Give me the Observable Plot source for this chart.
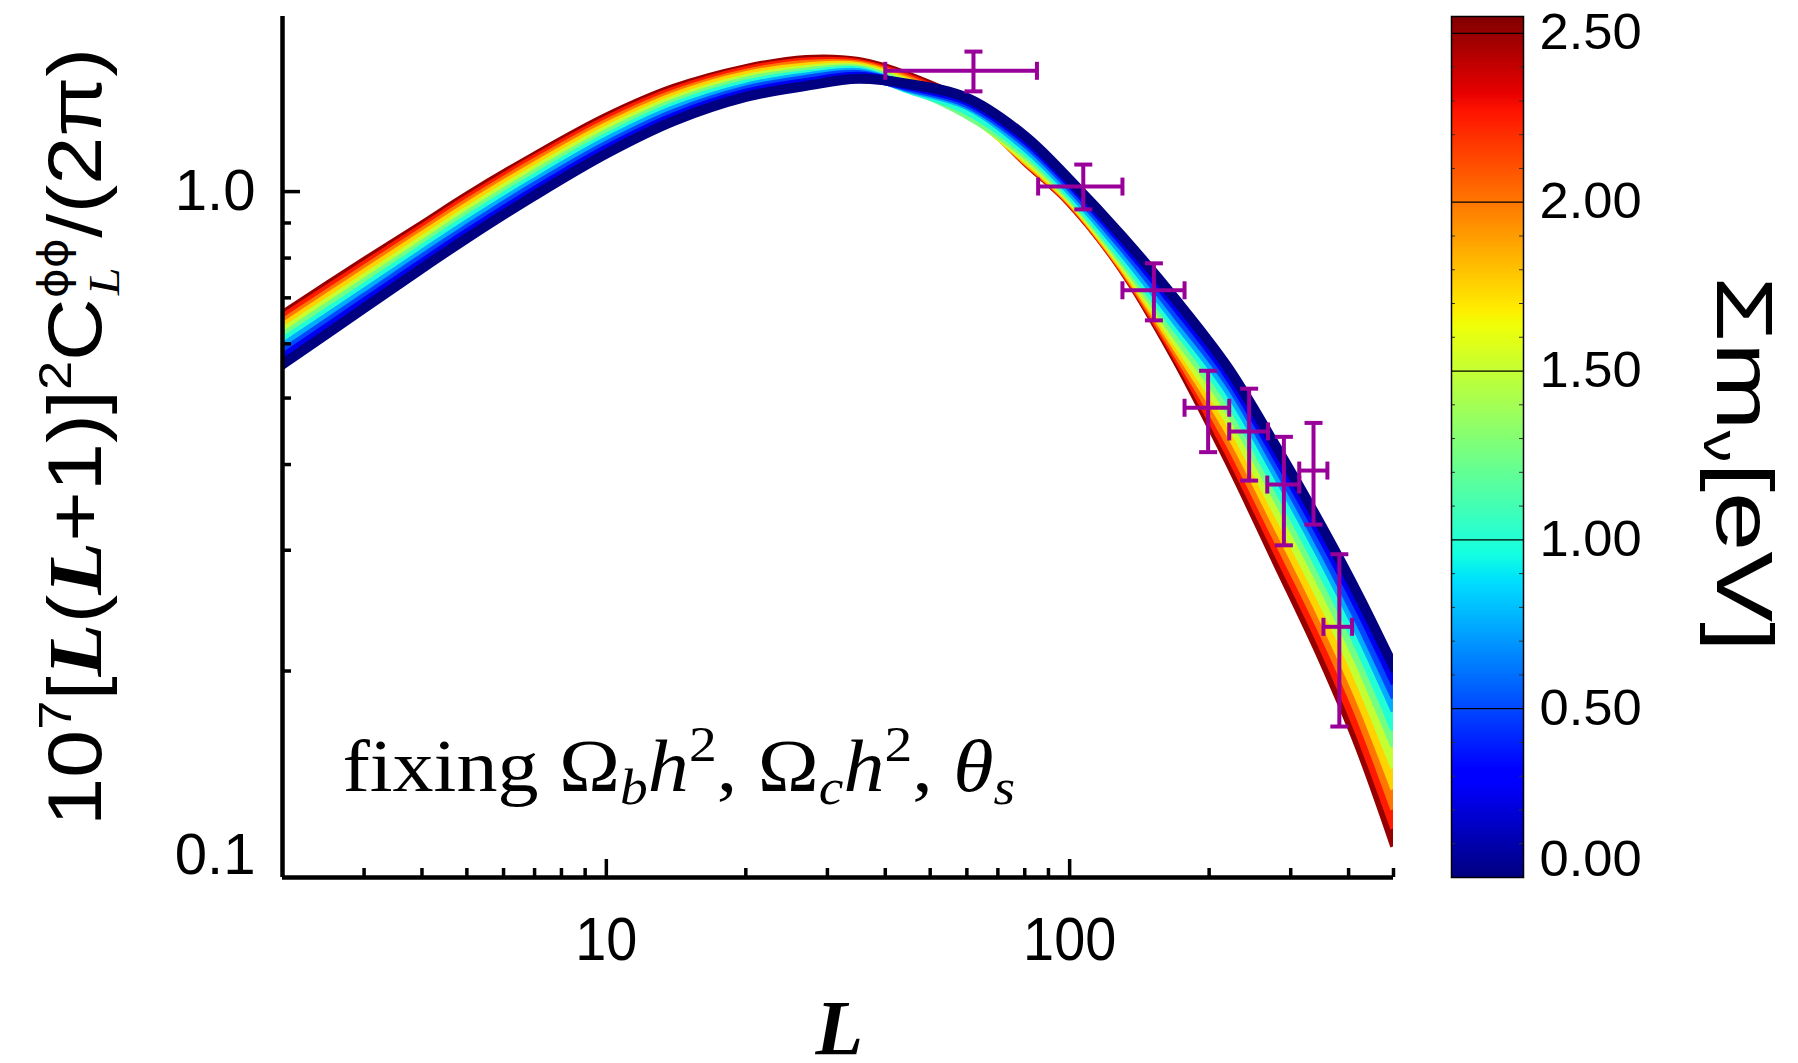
<!DOCTYPE html>
<html>
<head>
<meta charset="utf-8">
<script src="https://cdn.jsdelivr.net/npm/d3@7"></script>
<script src="https://cdn.jsdelivr.net/npm/@observablehq/plot@0.6"></script>
<style>
html, body { margin: 0; padding: 0; background: #fff; }
#chart { position: relative; width: 1798px; height: 1063px; overflow: hidden; background: #fff; }
#chart > svg { position: absolute; top: 0; }
</style>
</head>
<body>
<div id="chart"></div>
<script>
// ---------------- data ----------------
const masses = [0, 0.25, 0.5, 0.75, 1.0, 1.25, 1.5, 1.75, 2.0, 2.25, 2.5];
const multipoles = [2, 3, 4, 5, 7, 10, 14, 20, 27, 35, 45, 60, 80, 100, 130, 170, 220, 280, 350, 420, 500];
// 10^7 [L(L+1)]^2 C_L^phiphi / 2pi, one row per summed neutrino mass
const spectra = [
  [0.560, 0.676, 0.773, 0.855, 0.987, 1.136, 1.268, 1.374, 1.426, 1.460, 1.435, 1.370, 1.206, 1.041, 0.860, 0.694, 0.553, 0.423, 0.325, 0.258, 0.203],
  [0.571, 0.688, 0.785, 0.868, 1.001, 1.151, 1.283, 1.389, 1.440, 1.470, 1.428, 1.358, 1.194, 1.032, 0.848, 0.680, 0.541, 0.412, 0.315, 0.249, 0.195],
  [0.581, 0.699, 0.798, 0.881, 1.016, 1.166, 1.298, 1.403, 1.455, 1.479, 1.421, 1.347, 1.182, 1.020, 0.834, 0.664, 0.529, 0.400, 0.304, 0.239, 0.186],
  [0.592, 0.711, 0.810, 0.895, 1.030, 1.182, 1.314, 1.417, 1.467, 1.489, 1.416, 1.338, 1.166, 1.007, 0.819, 0.649, 0.515, 0.388, 0.294, 0.230, 0.178],
  [0.603, 0.723, 0.823, 0.909, 1.045, 1.197, 1.330, 1.432, 1.479, 1.497, 1.412, 1.316, 1.151, 0.995, 0.805, 0.634, 0.500, 0.373, 0.281, 0.219, 0.167],
  [0.613, 0.735, 0.835, 0.922, 1.059, 1.212, 1.344, 1.446, 1.492, 1.504, 1.421, 1.298, 1.138, 0.987, 0.796, 0.619, 0.484, 0.359, 0.269, 0.208, 0.158],
  [0.623, 0.746, 0.847, 0.935, 1.073, 1.227, 1.358, 1.459, 1.504, 1.512, 1.431, 1.303, 1.126, 0.981, 0.788, 0.606, 0.467, 0.343, 0.255, 0.196, 0.147],
  [0.633, 0.758, 0.860, 0.948, 1.087, 1.241, 1.373, 1.473, 1.517, 1.520, 1.440, 1.311, 1.119, 0.976, 0.782, 0.596, 0.451, 0.328, 0.242, 0.185, 0.137],
  [0.642, 0.768, 0.871, 0.960, 1.100, 1.255, 1.386, 1.485, 1.530, 1.527, 1.450, 1.320, 1.115, 0.973, 0.778, 0.586, 0.435, 0.314, 0.231, 0.175, 0.128],
  [0.652, 0.779, 0.882, 0.972, 1.113, 1.269, 1.399, 1.498, 1.543, 1.535, 1.460, 1.329, 1.113, 0.969, 0.775, 0.578, 0.420, 0.301, 0.220, 0.165, 0.120],
  [0.660, 0.789, 0.892, 0.983, 1.124, 1.281, 1.412, 1.509, 1.556, 1.545, 1.470, 1.338, 1.111, 0.967, 0.773, 0.570, 0.407, 0.289, 0.210, 0.157, 0.113]
];
// binned measurements with errors
const binCenter = [62, 107, 152, 199, 244, 290, 336, 382];
const binLow    = [40, 85.5, 130, 177, 221, 267, 313, 353];
const binHigh   = [85, 130, 177, 221, 268, 313, 360, 407];
const binValue  = [1.50, 1.017, 0.718, 0.484, 0.447, 0.374, 0.392, 0.232];
const binLower  = [1.40, 0.942, 0.649, 0.417, 0.379, 0.305, 0.327, 0.166];
const binUpper  = [1.60, 1.095, 0.786, 0.548, 0.516, 0.439, 0.460, 0.296];
// ticks
const yLabelTicks = [1.0];
const yLabelTicksBottom = [0.1];
const yMinorTicks = [0.2, 0.3, 0.4, 0.5, 0.6, 0.7, 0.8, 0.9];
const yMajorTicks = [1.0];
const xLabelTicks = [10, 100];
const xMajorTicks = [10, 100];
const xMinorTicks = [3, 4, 5, 6, 7, 8, 9, 20, 30, 40, 50, 60, 70, 80, 90, 200, 300, 400, 500];
const cbarTicks = [0.5, 1.0, 1.5, 2.0, 2.5];
const cbarTickBottom = [0];
const cbarMinorTicks = [0.1, 0.2, 0.3, 0.4, 0.6, 0.7, 0.8, 0.9, 1.1, 1.2, 1.3, 1.4, 1.6, 1.7, 1.8, 1.9, 2.1, 2.2, 2.3, 2.4];
const massMax = 2.55;

// jet colour map
const jetStops = [0, 0.11, 0.125, 0.34, 0.35, 0.375, 0.64, 0.65, 0.66, 0.89, 0.91, 1];
const jetColors = ["rgb(0,0,128)", "rgb(0,0,255)", "rgb(0,0,255)", "rgb(0,219,255)", "rgb(0,230,247)", "rgb(20,255,226)",
                   "rgb(239,255,8)", "rgb(247,246,0)", "rgb(255,236,0)", "rgb(255,19,0)", "rgb(232,0,0)", "rgb(128,0,0)"];
const colorScale = {type: "linear", domain: jetStops.map(t => t * massMax), range: jetColors, interpolate: "rgb"};
const purple = "#990099";

// ---------------- layout ----------------
const W = 1440, H = 1063;
const mL = 282, mR = 47, mT = 16, mB = 186;
const FW = W - mL - mR, FH = H - mT - mB;

const rows = masses.map((m, i) => multipoles.map((L, j) => ({L, v: spectra[i][j], m})));
const bandMarks = [];
for (let i = masses.length - 1; i >= 0; i--) {
  if (i > 0) {
    const mid = (masses[i] + masses[i - 1]) / 2;
    const seg = multipoles.map((L, j) => ({L, lo: spectra[i - 1][j], hi: spectra[i][j], m: mid}));
    bandMarks.push(Plot.areaY(seg, {x: "L", y1: "lo", y2: "hi", fill: "m", curve: "catmull-rom", clip: true}));
  }
  bandMarks.push(Plot.line(rows[i], {x: "L", y: "v", stroke: "m", strokeWidth: 10, strokeLinecap: "square", curve: "catmull-rom", clip: true}));
}

const bins = binCenter.map((L, i) => ({L, lo: binLow[i], hi: binHigh[i], v: binValue[i], vlo: binLower[i], vhi: binUpper[i]}));
const hCap = {draw(ctx, size) { const r = Math.sqrt(size / Math.PI); ctx.moveTo(-r, 0); ctx.lineTo(r, 0); }};
const vCap = {draw(ctx, size) { const r = Math.sqrt(size / Math.PI); ctx.moveTo(0, -r); ctx.lineTo(0, r); }};
const capOpts = {r: 9, stroke: purple, strokeWidth: 4, fill: "none"};

const main = Plot.plot({
  width: W, height: H,
  marginLeft: mL, marginRight: mR, marginTop: mT, marginBottom: mB,
  style: {fontFamily: "'Liberation Sans', Arial, sans-serif", color: "black", background: "transparent", overflow: "visible"},
  x: {type: "log", domain: [2, 500]},
  y: {type: "log", domain: [0.1, 1.8]},
  color: colorScale,
  marks: [
    ...bandMarks,
    Plot.ruleX(bins, {x: "L", y1: "vlo", y2: "vhi", stroke: purple, strokeWidth: 4}),
    Plot.ruleY(bins, {y: "v", x1: "lo", x2: "hi", stroke: purple, strokeWidth: 4}),
    Plot.dot(bins, {x: "L", y: "vlo", symbol: hCap, ...capOpts}),
    Plot.dot(bins, {x: "L", y: "vhi", symbol: hCap, ...capOpts}),
    Plot.dot(bins, {x: "lo", y: "v", symbol: vCap, ...capOpts}),
    Plot.dot(bins, {x: "hi", y: "v", symbol: vCap, ...capOpts}),
    // inward ticks
    Plot.tickY(yMinorTicks, {y: d => d, insetRight: FW - 9, stroke: "black", strokeWidth: 3.5}),
    Plot.tickY(yMajorTicks, {y: d => d, insetRight: FW - 18, stroke: "black", strokeWidth: 3.5}),
    Plot.tickX(xMinorTicks, {x: d => d, insetTop: FH - 9, stroke: "black", strokeWidth: 3.5}),
    Plot.tickX(xMajorTicks, {x: d => d, insetTop: FH - 18, stroke: "black", strokeWidth: 3.5}),
    // axis lines
    Plot.ruleX([2], {stroke: "black", strokeWidth: 4.5}),
    Plot.ruleY([0.1], {stroke: "black", strokeWidth: 4.5}),
    // tick labels
    Plot.axisY(yLabelTicks, {tickSize: 0, tickPadding: 27, fontSize: 57, tickFormat: d3.format(".1f"), label: null}),
    Plot.axisY(yLabelTicksBottom, {tickSize: 0, tickPadding: 27, fontSize: 57, tickFormat: d3.format(".1f"), label: null, dy: -22}),
    Plot.axisX(xLabelTicks, {tickSize: 0, tickPadding: 38, fontSize: 62, tickFormat: d => String(d), label: null})
  ]
});
main.style.left = "0px";

// colour bar
const cbW = 358;
const cbFW = 72;
const cbSteps = d3.range(0, massMax, 0.005);
const cbar = Plot.plot({
  width: cbW, height: H,
  marginLeft: 11, marginRight: cbW - 83, marginTop: mT, marginBottom: mB,
  style: {fontFamily: "'Liberation Sans', Arial, sans-serif", color: "black", background: "transparent", overflow: "visible"},
  x: {domain: [0, 1], axis: null},
  y: {domain: [0, massMax]},
  color: colorScale,
  marks: [
    Plot.rect(cbSteps, {x1: 0, x2: 1, y1: d => d, y2: d => Math.min(d + 0.0055, massMax), fill: d => d + 0.0025, shapeRendering: "crispEdges"}),
    Plot.ruleY(cbarTicks, {stroke: "black", strokeWidth: 1.2}),
    Plot.tickY(cbarMinorTicks, {y: d => d, insetRight: cbFW - 4, stroke: "#333", strokeWidth: 1}),
    Plot.tickY(cbarMinorTicks, {y: d => d, insetLeft: cbFW - 4, stroke: "#333", strokeWidth: 1}),
    Plot.frame({stroke: "black", strokeWidth: 1.5}),
    Plot.axisY(cbarTicks, {anchor: "right", tickSize: 0, tickPadding: 16, fontSize: 50, tickFormat: d3.format(".2f"), label: null}),
    Plot.axisY(cbarTickBottom, {anchor: "right", tickSize: 0, tickPadding: 16, fontSize: 50, tickFormat: d3.format(".2f"), label: null, dy: -18})
  ]
});
cbar.style.left = "1440px";

const chart = document.getElementById("chart");
chart.appendChild(main);
chart.appendChild(cbar);

// stretch / condense tick label glyphs like the original
function stretch(svg, label, sx) {
  d3.select(svg).selectAll(`g[aria-label="${label}"] text`).each(function () {
    const t = this.getAttribute("transform");
    if (t) this.setAttribute("transform", t + ` scale(${sx},1)`);
    else {
      const x = +this.getAttribute("x") || 0, y = +this.getAttribute("y") || 0;
      this.removeAttribute("x"); this.removeAttribute("y");
      this.setAttribute("transform", `translate(${x},${y}) scale(${sx},1)`);
    }
  });
}
stretch(main, "y-axis tick label", 1.02);
stretch(main, "x-axis tick label", 0.9);
stretch(cbar, "y-axis tick label", 1.05);

const SVGNS = "http://www.w3.org/2000/svg";
function addText(svg, attrs, parts) {
  const t = document.createElementNS(SVGNS, "text");
  for (const k in attrs) t.setAttribute(k, attrs[k]);
  for (const p of parts) {
    const s = document.createElementNS(SVGNS, "tspan");
    for (const k in p) if (k !== "text") s.setAttribute(k, p[k]);
    s.textContent = p.text;
    t.appendChild(s);
  }
  svg.appendChild(t);
  return t;
}
const serifBI = {"font-family": "'Liberation Serif', 'DejaVu Serif', serif", "font-weight": "bold", "font-style": "italic"};
const serifI = {"font-family": "'Liberation Serif', 'DejaVu Serif', serif", "font-style": "italic"};

// y-axis title
addText(main, {transform: "translate(101,437) rotate(-90) scale(1.14,1)", "text-anchor": "middle", "font-family": "'Liberation Sans', Arial, sans-serif", "font-size": 76, fill: "black"}, [
  {text: "10"},
  {text: "7", "font-size": 46, dy: -30},
  {text: "[", dy: 30},
  {text: "L", ...serifBI},
  {text: "("},
  {text: "L", ...serifBI},
  {text: "+1)]"},
  {text: "2", "font-size": 46, dy: -30},
  {text: "C", dy: 30},
  {text: "ϕϕ", "font-size": 40, dy: -34, "font-family": "'DejaVu Sans', sans-serif"},
  {text: "L", "font-size": 44, ...serifI, dx: -50, dy: 52},
  {text: "/(2π)", dx: 26, dy: -18}
]);

// x-axis title
const sx = main.scale("x"), sy = main.scale("y");
addText(main, {x: sx.apply(31.9), y: 1054, "text-anchor": "middle", "font-size": 78, fill: "black", ...serifBI}, [{text: "L"}]);

// annotation
addText(main, {transform: `translate(${sx.apply(2.7)},${sy.apply(0.1334)}) scale(1.11,1)`, "text-anchor": "start", "font-family": "'Liberation Serif', 'DejaVu Serif', serif", "font-size": 74, fill: "black"}, [
  {text: "fixing Ω"},
  {text: "b", ...serifI, "font-size": 50, dy: 13},
  {text: "h", ...serifI, dy: -13},
  {text: "2", "font-size": 50, dy: -30},
  {text: ", Ω", dy: 30},
  {text: "c", ...serifI, "font-size": 50, dy: 13},
  {text: "h", ...serifI, dy: -13},
  {text: "2", "font-size": 50, dy: -30},
  {text: ", ", dy: 30},
  {text: "θ", ...serifI},
  {text: "s", ...serifI, "font-size": 50, dy: 13}
]);

// colour bar title
addText(cbar, {transform: "translate(277,464) rotate(90) scale(1.33,1)", "text-anchor": "middle", "font-family": "'Liberation Sans', Arial, sans-serif", "font-size": 80, fill: "black"}, [
  {text: "Σm"},
  {text: "ν", "font-size": 48, dy: 13},
  {text: "[eV]", dy: -13}
]);
</script>
</body>
</html>
